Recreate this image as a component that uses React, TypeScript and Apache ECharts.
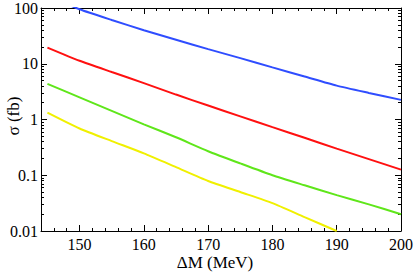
import React, { useEffect, useRef } from "react";
import * as echarts from "echarts";

const xValues = [145, 150, 155, 160, 165, 170, 175, 180, 185, 190, 195, 200];
const blueValues = [165, 95, 61, 40, 27, 18.3, 12.6, 8.6, 5.9, 4.05, 3.0, 2.25];
const redValues = [19.5, 11.3, 7.1, 4.5, 2.8, 1.78, 1.14, 0.73, 0.47, 0.3, 0.195, 0.126];
const greenValues = [4.35, 2.5, 1.43, 0.82, 0.48, 0.27, 0.163, 0.1, 0.066, 0.044, 0.03, 0.02];
const yellowValues = [1.33, 0.69, 0.41, 0.247, 0.14, 0.079, 0.05, 0.0316, 0.0177, 0.01];

const xMajorTicks = [150, 160, 170, 180, 190, 200];
const yMajorTicks = [0.01, 0.1, 1, 10, 100];
const yMinorTicks: number[] = [];
[0.01, 0.1, 1, 10].forEach((d) => {
  for (let k = 2; k <= 9; k++) yMinorTicks.push(+(d * k).toPrecision(3));
});

const FONT = "Liberation Serif, Times New Roman, serif";

export default function App() {
  const ref = useRef<HTMLDivElement>(null);
  useEffect(() => {
    document.body.style.margin = "0";
    const chart = echarts.init(ref.current!, null, { renderer: "svg" });
    const mk = (vals: number[]) => vals.map((v, i) => [xValues[i], v]);
    const line = { show: true, lineStyle: { color: "#000", width: 1 } };
    const xBase = {
      type: "value" as const,
      min: 144,
      max: 200,
      splitLine: { show: false },
    };
    const yBase = {
      type: "log" as const,
      logBase: 10,
      min: 0.01,
      max: 100,
      splitLine: { show: false },
    };
    chart.setOption({
      animation: false,
      backgroundColor: "#fff",
      textStyle: { fontFamily: FONT },
      grid: { left: 41, right: 11, top: 7, bottom: 42 },
      xAxis: [
        { ...xBase, position: "bottom", interval: 2, axisLine: line,
          axisTick: { inside: true, length: 3, lineStyle: { color: "#000" } },
          axisLabel: { show: false } },
        { ...xBase, position: "bottom", axisLine: { show: false },
          axisTick: { inside: true, length: 6, customValues: xMajorTicks, lineStyle: { color: "#000" } },
          axisLabel: { customValues: xMajorTicks, fontFamily: FONT, fontSize: 16, color: "#000", margin: 5 } },
        { ...xBase, position: "top", interval: 2, axisLine: line,
          axisTick: { inside: true, length: 3, lineStyle: { color: "#000" } },
          axisLabel: { show: false } },
        { ...xBase, position: "top", axisLine: { show: false },
          axisTick: { inside: true, length: 6, customValues: xMajorTicks, lineStyle: { color: "#000" } },
          axisLabel: { show: false } },
      ],
      yAxis: [
        { ...yBase, position: "left", axisLine: line,
          axisTick: { inside: true, length: 6, customValues: yMajorTicks, lineStyle: { color: "#000" } },
          axisLabel: { customValues: yMajorTicks, fontFamily: FONT, fontSize: 16, color: "#000", margin: 3,
            formatter: (v: number) => String(v) } },
        { ...yBase, position: "left", axisLine: { show: false },
          axisTick: { inside: true, length: 3, customValues: yMinorTicks, lineStyle: { color: "#000" } },
          axisLabel: { show: false } },
        { ...yBase, position: "right", axisLine: line,
          axisTick: { inside: true, length: 6, customValues: yMajorTicks, lineStyle: { color: "#000" } },
          axisLabel: { show: false } },
        { ...yBase, position: "right", axisLine: { show: false },
          axisTick: { inside: true, length: 3, customValues: yMinorTicks, lineStyle: { color: "#000" } },
          axisLabel: { show: false } },
      ],
      graphic: [
        { type: "text", x: 215, y: 262, style: { text: "ΔM (MeV)", fontFamily: FONT, fontSize: 17, fill: "#000", align: "center", verticalAlign: "middle" } },
        { type: "text", x: 13, y: 116, rotation: Math.PI / 2, style: { text: "σ (fb)", fontFamily: FONT, fontSize: 17, fill: "#000", align: "center", verticalAlign: "middle" } },
      ],
      series: [
        { name: "blue", data: mk(blueValues), color: "#2f4dff" },
        { name: "red", data: mk(redValues), color: "#ff1010" },
        { name: "green", data: mk(greenValues), color: "#5fe61a" },
        { name: "yellow", data: mk(yellowValues), color: "#f0f000" },
      ].map((s) => ({
        type: "line",
        name: s.name,
        data: s.data,
        xAxisIndex: 0,
        yAxisIndex: 0,
        smooth: 0.2,
        symbol: "none",
        clip: true,
        lineStyle: { color: s.color, width: 2 },
      })),
    });
    return () => chart.dispose();
  }, []);
  return <div ref={ref} style={{ width: 416, height: 273 }} />;
}
